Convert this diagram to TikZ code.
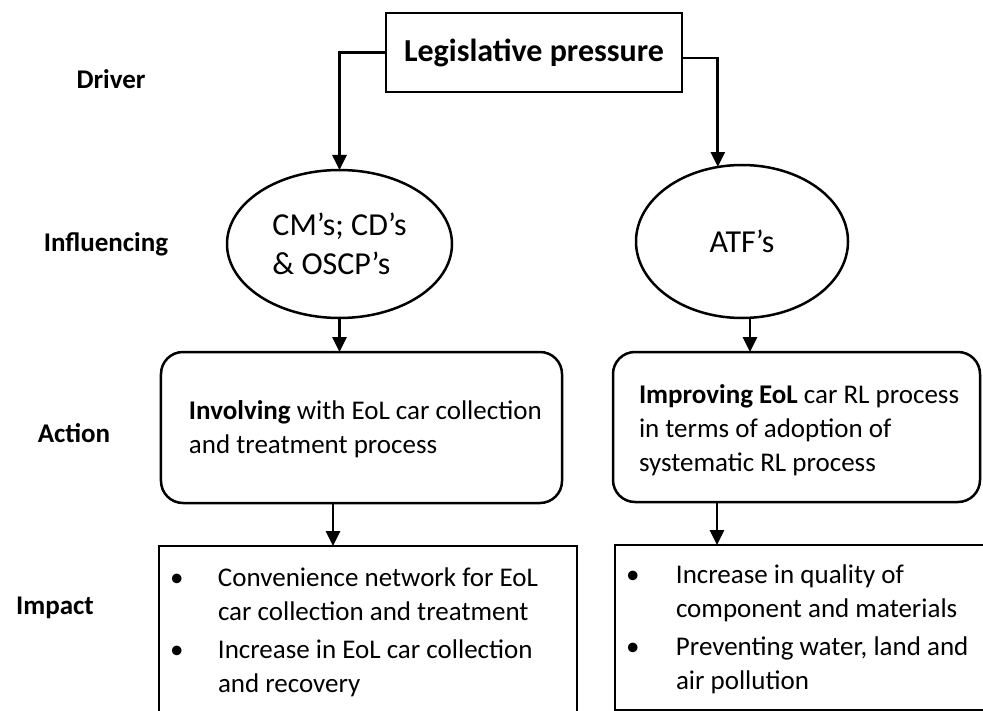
\documentclass[tikz,border=0pt]{standalone}
\usepackage{fontspec}
\setmainfont{Carlito}
\usetikzlibrary{shapes.geometric,arrows.meta}
\begin{document}
\begin{tikzpicture}[x=1bp,y=-1bp,
  every node/.style={inner sep=0pt, outer sep=0pt},
  body/.style={font=\fontsize{27bp}{34bp}\selectfont},
  big/.style={font=\fontsize{32bp}{39bp}\selectfont},
  stage/.style={font=\fontsize{27bp}{33bp}\selectfont\bfseries},
  frame/.style={draw, line width=2.5bp},
  roundbox/.style={frame, rounded corners=22bp},
  link/.style={line width=2.8bp, -{Triangle[width=14bp,length=15bp]}},
]
\useasboundingbox (0,0) rectangle (983,711);
\begin{scope}
\clip (0,0) rectangle (983,711);

% stage labels
\node[stage] (drv)  at (111,79)  {Driver};
\node[stage] (infl) at (106,244) {Influencing};
\node[stage] (actl) at (74,433)  {Action};
\node[stage] (impl) at (55,608)  {Impact};

% driver
\node[frame, big, minimum width=296bp, minimum height=79bp] (leg) at (534,52.5) {\bfseries Legislative pressure};

% influenced parties
\node[frame, ellipse, big, align=left, minimum width=225bp, minimum height=148bp] (cm) at (339.5,244) {CM’s; CD’s\\\& OSCP’s};
\node[frame, ellipse, big, minimum width=212bp, minimum height=153bp] (atf) at (742,241.5) {ATF’s};

% actions
\node[roundbox, minimum width=401bp, minimum height=151bp] (act1) at (361.5,427.5) {};
\node[roundbox, minimum width=367bp, minimum height=150bp] (act2) at (796.5,427) {};
\node[body, anchor=west, align=left] (act1txt) at ([xshift=28bp,yshift=-2bp]act1.west)
  {\textbf{Involving} with EoL car collection\\and treatment process};
\node[body, anchor=west, align=left] (act2txt) at ([xshift=26bp,yshift=-3bp]act2.west)
  {\textbf{Improving EoL} car RL process\\in terms of adoption of\\systematic RL process};

% impacts
\node[frame, anchor=north west, minimum width=418bp, minimum height=172bp] (imp1) at (159,546) {};
\node[frame, anchor=north west, minimum width=372bp, minimum height=165bp] (imp2) at (615,545) {};
\node[body, anchor=north west] (imp1txt) at ([xshift=11bp,yshift=-17bp]imp1.north west)
  {\begin{tabular}{@{}p{48bp}@{}l@{}}
   \textbullet & Convenience network for EoL\\
               & car collection and treatment\\[4bp]
   \textbullet & Increase in EoL car collection\\
               & and recovery
   \end{tabular}};
\node[body, anchor=north west] (imp2txt) at ([xshift=11bp,yshift=-15bp]imp2.north west)
  {\begin{tabular}{@{}p{50bp}@{}l@{}}
   \textbullet & Increase in quality of\\
               & component and materials\\[4bp]
   \textbullet & Preventing water, land and\\
               & air pollution
   \end{tabular}};

% connectors
\draw[link] (leg.west) -| (cm.north);
\draw[link] ([yshift=-5.5bp]leg.east) -| (atf.108);
\draw[link] (cm.south) -- (cm.south |- act1.north);
\draw[link] ([xshift=8bp]atf.south) -- ([xshift=8bp]atf.south |- act2.north);
\draw[link] ([xshift=-28.5bp]act1.south) -- ([xshift=-28.5bp]act1.south |- imp1.north);
\draw[link] ([xshift=-79.5bp]act2.south) -- ([xshift=-79.5bp]act2.south |- imp2.north);
\end{scope}
\end{tikzpicture}
\end{document}
